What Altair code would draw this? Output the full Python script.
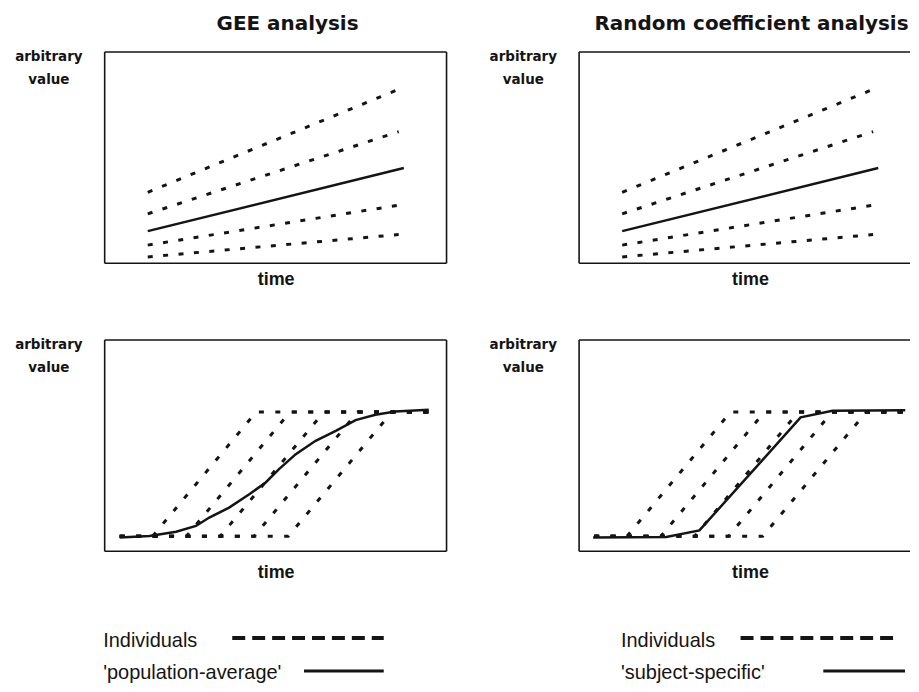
import altair as alt
import pandas as pd

# ---------------- data (time on x: 0..10, arbitrary value on y: 0..10) ----------------
# top row: linear development, 4 individuals + the average line
top_ind_x0 = [1.26, 1.26, 1.26, 1.26]
top_ind_x1 = [8.75, 8.60, 8.60, 8.60]
top_ind_y0 = [3.36, 2.34, 0.86, 0.30]
top_ind_y1 = [8.33, 6.23, 2.75, 1.36]
top_avg_x = [1.26, 8.75]
top_avg_y = [1.52, 4.51]

# bottom row: S-shaped development, 5 individuals (flat - rise - flat)
sig_x_first = 0.44
sig_x_last = 9.48
sig_low = 0.71
sig_high = 6.59
sig_rise_start = [1.40, 2.39, 3.38, 4.37, 5.37]
sig_rise_end = [4.43, 5.42, 6.41, 7.40, 8.40]

# GEE 'population-average' curve
gee_x = [0.44, 1.31, 2.09, 2.67, 3.06, 3.64, 4.23, 4.71, 5.10, 5.59, 6.17, 6.76, 7.34, 7.92, 8.50, 9.48]
gee_y = [0.65, 0.73, 0.93, 1.20, 1.60, 2.07, 2.70, 3.26, 3.89, 4.60, 5.23, 5.70, 6.21, 6.46, 6.62, 6.70]

# random coefficient 'subject-specific' curve
rc_x = [0.41, 2.55, 3.52, 6.48, 7.41, 9.54]
rc_y = [0.65, 0.68, 0.99, 6.34, 6.65, 6.68]

panel_titles = ["GEE analysis", "Random coefficient analysis"]
x_title = "time"
y_title = ["arbitrary", "value"]
legend_dash_label = "Individuals"
legend_solid_labels = ["'population-average'", "'subject-specific'"]

# ---------------- tables ----------------
top_ind = pd.DataFrame(
    [{"id": i, "step": 0, "x": top_ind_x0[i], "y": top_ind_y0[i]} for i in range(len(top_ind_x0))]
    + [{"id": i, "step": 1, "x": top_ind_x1[i], "y": top_ind_y1[i]} for i in range(len(top_ind_x1))]
)
top_avg = pd.DataFrame({"step": range(len(top_avg_x)), "x": top_avg_x, "y": top_avg_y})

rows = []
for k in range(len(sig_rise_start)):
    pts = [(sig_x_first, sig_low), (sig_rise_start[k], sig_low),
           (sig_rise_end[k], sig_high), (sig_x_last, sig_high)]
    for s, (px, py) in enumerate(pts):
        rows.append({"id": k, "step": s, "x": px, "y": py})
sig_ind = pd.DataFrame(rows)
gee_avg = pd.DataFrame({"step": range(len(gee_x)), "x": gee_x, "y": gee_y})
rc_avg = pd.DataFrame({"step": range(len(rc_x)), "x": rc_x, "y": rc_y})

# ---------------- style ----------------
INK = "#141414"
W_FULL = 343
W_RIGHT = 332
H = 212
one = pd.DataFrame({"k": [0]})


def rule(x, x2, y, y2=None, width=1.6, dash=None):
    kw = dict(color=INK, strokeWidth=width)
    if dash:
        kw["strokeDash"] = dash
    enc = dict(x=alt.value(x), x2=alt.value(x2), y=alt.value(y))
    if y2 is not None:
        enc["y2"] = alt.value(y2)
    return alt.Chart(one).mark_rule(**kw).encode(**enc)


def label(text, x, y):
    return alt.Chart(pd.DataFrame({"t": [text]})).mark_text(
        align="left", baseline="alphabetic", font="Liberation Sans", fontSize=20, color=INK
    ).encode(x=alt.value(x), y=alt.value(y), text="t:N")


def panel(ind_df, avg_df, width, ind_dash, time_pad, full_border, title=None, title_dx=0, legend=None):
    xmax = 10 * width / W_FULL
    xs = alt.Scale(domain=[0, xmax], nice=False, zero=False)
    ys = alt.Scale(domain=[0, 10], nice=False, zero=False)
    xax = alt.Axis(title=x_title, labels=False, ticks=False, domain=False, grid=False,
                   titleFont="Liberation Sans", titleFontSize=18, titleFontWeight="bold",
                   titleColor=INK, titlePadding=time_pad, titleX=W_FULL / 2, titleAlign="center")
    yax = alt.Axis(title=y_title, titleAngle=0, titleX=-56.5, titleY=9, titleAlign="center",
                   titleBaseline="alphabetic", titleLineHeight=23, titleFont="DejaVu Sans",
                   titleFontSize=13.5, titleFontWeight="bold", titleColor=INK,
                   labels=False, ticks=False, domain=False, grid=False)
    x = alt.X("x:Q", scale=xs, axis=xax)
    y = alt.Y("y:Q", scale=ys, axis=yax)
    ind = alt.Chart(ind_df).mark_line(color=INK, strokeWidth=3, strokeDash=ind_dash).encode(
        x=x, y=y, detail="id:N", order="step:Q")
    avg = alt.Chart(avg_df).mark_line(color=INK, strokeWidth=2.5).encode(
        x=x, y=y, order="step:Q")
    layers = [ind, avg,
              rule(0, width, 0), rule(0, width, H), rule(0, 0, 0, H)]
    if full_border:
        layers.append(rule(width, width, 0, H))
    if legend:
        layers += legend
    ch = alt.layer(*layers).properties(width=width, height=H)
    if title:
        ch = ch.properties(title=alt.TitleParams(
            text=title, font="DejaVu Sans", fontSize=20, fontWeight="bold", color=INK,
            anchor="middle", frame="group", dx=title_dx, offset=0, baseline="alphabetic"))
    return ch


legend_left = [
    label(legend_dash_label, -1.5, 308),
    rule(128, 280, 299, width=4, dash=[13, 7]),
    label(legend_solid_labels[0], -1.5, 340.5),
    rule(200, 280, 332, width=3),
]
legend_right = [
    label(legend_dash_label, 42, 308),
    rule(162, 322, 299, width=4, dash=[13, 7]),
    label(legend_solid_labels[1], 42, 340.5),
    rule(245, 327, 332, width=3),
]

tl = panel(top_ind, top_avg, W_FULL, [5, 10.5], 7, True, panel_titles[0], 12)
tr = panel(top_ind, top_avg, W_RIGHT, [5, 10.5], 7, False, panel_titles[1], 7)
bl = panel(sig_ind, gee_avg, W_FULL, [5, 11.5], 12, True, legend=legend_left)
br = panel(sig_ind, rc_avg, W_RIGHT, [5, 11.5], 12, False, legend=legend_right)

chart = alt.concat(tl, tr, bl, br, columns=2, spacing={"row": 77, "column": 133},
                   bounds="flush").properties(
    padding={"left": 6, "top": 5, "right": 0, "bottom": 0},
    background="white",
).configure_view(stroke=None)

chart.save("out.html", embed_options={"renderer": "svg", "actions": False})
